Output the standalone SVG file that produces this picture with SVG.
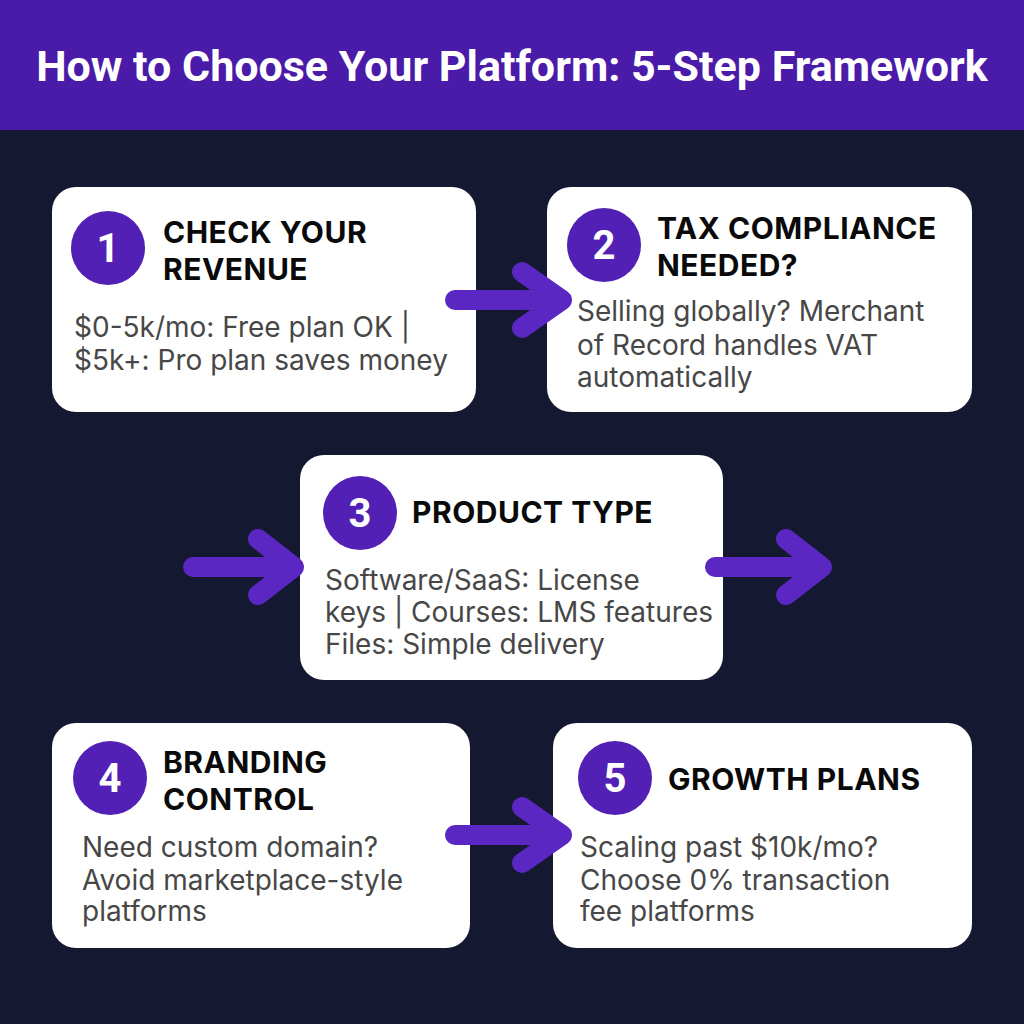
<svg xmlns="http://www.w3.org/2000/svg" width="1024" height="1024" viewBox="0 0 1024 1024">
<style>
.box{fill:#ffffff}
.num{fill:#5320b5}
.numt{font-family:Roboto,"Liberation Sans",sans-serif;font-weight:700;font-size:40px;fill:#ffffff;text-anchor:middle}
.ttl{font-family:Inter,Roboto,"Liberation Sans",sans-serif;font-weight:700;font-size:30px;letter-spacing:0.5px;fill:#0a0a0a}
.body{font-family:Inter,Roboto,"Liberation Sans",sans-serif;font-size:28px;fill:#474747}
.arr{fill:none;stroke:#5a27c2;stroke-width:20;stroke-linecap:round;stroke-linejoin:round}
</style>
<rect width="1024" height="1024" fill="#141831"/>
<rect width="1024" height="130" fill="#4a1aa8"/>
<text x="512" y="81" text-anchor="middle" font-family="Roboto,'Liberation Sans',sans-serif" font-weight="700" font-size="43" fill="#ffffff">How to Choose Your Platform: 5-Step Framework</text>

<g id="step1">
<rect class="box" x="52" y="187" width="424" height="225" rx="24"/>
<circle class="num" cx="108" cy="248" r="37"/>
<text class="numt" x="108" y="262">1</text>
<text class="ttl" x="163" y="243">CHECK YOUR</text>
<text class="ttl" x="163" y="280">REVENUE</text>
<text class="body" x="74" y="337">$0-5k/mo: Free plan OK |</text>
<text class="body" x="74" y="370">$5k+: Pro plan saves money</text>
</g>

<g id="step2">
<rect class="box" x="547" y="187" width="425" height="225" rx="24"/>
<circle class="num" cx="604" cy="245" r="37"/>
<text class="numt" x="604" y="259">2</text>
<text class="ttl" x="657" y="239">TAX COMPLIANCE</text>
<text class="ttl" x="657" y="276">NEEDED?</text>
<text class="body" x="577" y="321">Selling globally? Merchant</text>
<text class="body" x="577" y="355">of Record handles VAT</text>
<text class="body" x="577" y="387">automatically</text>
</g>

<g id="step3">
<rect class="box" x="300" y="455" width="423" height="225" rx="24"/>
<circle class="num" cx="360" cy="513" r="37"/>
<text class="numt" x="360" y="527">3</text>
<text class="ttl" x="412" y="523">PRODUCT TYPE</text>
<text class="body" x="325" y="590">Software/SaaS: License</text>
<text class="body" x="325" y="622">keys | Courses: LMS features</text>
<text class="body" x="325" y="654">Files: Simple delivery</text>
</g>

<g id="step4">
<rect class="box" x="52" y="723" width="418" height="225" rx="24"/>
<circle class="num" cx="110" cy="778" r="37"/>
<text class="numt" x="110" y="792">4</text>
<text class="ttl" x="163" y="773">BRANDING</text>
<text class="ttl" x="163" y="810">CONTROL</text>
<text class="body" x="82" y="857">Need custom domain?</text>
<text class="body" x="82" y="890">Avoid marketplace-style</text>
<text class="body" x="82" y="921">platforms</text>
</g>

<g id="step5">
<rect class="box" x="553" y="723" width="419" height="225" rx="24"/>
<circle class="num" cx="615" cy="778" r="37"/>
<text class="numt" x="615" y="792">5</text>
<text class="ttl" x="668" y="790">GROWTH PLANS</text>
<text class="body" x="580" y="857">Scaling past $10k/mo?</text>
<text class="body" x="580" y="890">Choose 0% transaction</text>
<text class="body" x="580" y="921">fee platforms</text>
</g>

<g id="connectors">
<path class="arr" d="M455 300 H562 M522 272 L562 300 L522 328"/>
<path class="arr" d="M193 567 H294 M258 539 L294 567 L258 595"/>
<path class="arr" d="M715 567 H822 M786 539 L822 567 L786 595"/>
<path class="arr" d="M455 835 H562 M522 807 L562 835 L522 863"/>
</g>
</svg>
